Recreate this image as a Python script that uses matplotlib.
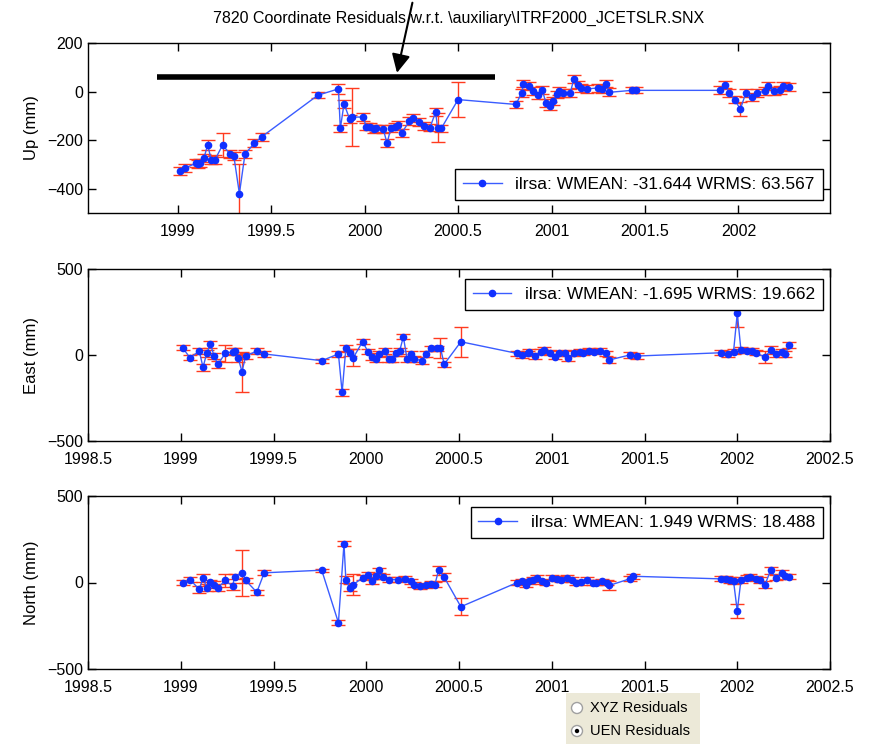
import numpy as np
import matplotlib
matplotlib.use('Agg')
import matplotlib.pyplot as plt
from matplotlib.patches import Rectangle, Circle

plt.rcParams['font.family'] = ['Liberation Sans', 'DejaVu Sans']

# ---- Up residuals (year, mm, error mm)
up_t = [1999.01, 1999.04, 1999.10, 1999.11, 1999.12, 1999.14, 1999.16, 1999.18, 1999.20, 1999.24,
        1999.28, 1999.30, 1999.33, 1999.36, 1999.41, 1999.45, 1999.75, 1999.86, 1999.87, 1999.89,
        1999.92, 1999.93, 1999.99, 2000.01, 2000.03, 2000.05, 2000.06, 2000.10, 2000.12, 2000.14,
        2000.16, 2000.18, 2000.20, 2000.24, 2000.26, 2000.29, 2000.32, 2000.35, 2000.38, 2000.39,
        2000.41, 2000.50, 2000.81, 2000.84, 2000.85, 2000.88, 2000.90, 2000.93, 2000.95, 2000.97,
        2000.99, 2001.01, 2001.03, 2001.04, 2001.06, 2001.10, 2001.12, 2001.14, 2001.16, 2001.19,
        2001.25, 2001.27, 2001.29, 2001.31, 2001.43, 2001.45, 2001.90, 2001.93, 2001.95, 2001.98,
        2002.01, 2002.04, 2002.07, 2002.10, 2002.14, 2002.16, 2002.19, 2002.22, 2002.24, 2002.27]
up_v = [-328, -315, -294, -298, -295, -275, -220, -282, -280, -220,
        -257, -264, -420, -257, -213, -186, -15, 11, -152, -50,
        -114, -105, -105, -144, -144, -155, -152, -155, -213, -152,
        -144, -139, -169, -121, -109, -125, -141, -148, -84, -148,
        -152, -33, -53, -5, 33, 22, 1, -16, 8, -46,
        -60, -40, -12, 1, -5, -5, 52, 29, 15, 11,
        15, 11, 33, -3, 5, 5, 5, 29, -5, -33,
        -73, -5, -22, -5, 1, 24, 1, 8, 22, 18]
up_e = [16, 16, 16, 16, 16, 16, 20, 16, 20, 49,
        16, 16, 122, 16, 16, 16, 12, 20, 16, 16,
        16, 120, 16, 16, 16, 16, 16, 16, 16, 16,
        16, 16, 16, 16, 16, 16, 16, 16, 16, 61,
        16, 73, 16, 16, 16, 16, 16, 16, 16, 16,
        16, 16, 16, 16, 16, 16, 16, 16, 16, 16,
        16, 16, 16, 16, 12, 12, 16, 16, 16, 16,
        28, 16, 16, 16, 16, 16, 16, 16, 16, 16]

# ---- East residuals
east_t = [1999.01, 1999.05, 1999.10, 1999.12, 1999.14, 1999.16, 1999.18, 1999.20, 1999.24, 1999.28,
          1999.29, 1999.31, 1999.33, 1999.35, 1999.41, 1999.45, 1999.76, 1999.85, 1999.87, 1999.89,
          1999.91, 1999.93, 1999.98, 2000.01, 2000.03, 2000.05, 2000.07, 2000.10, 2000.12, 2000.14,
          2000.16, 2000.18, 2000.20, 2000.22, 2000.24, 2000.26, 2000.30, 2000.32, 2000.35, 2000.38,
          2000.40, 2000.42, 2000.51, 2000.81, 2000.84, 2000.87, 2000.88, 2000.91, 2000.94, 2000.96,
          2000.99, 2001.02, 2001.04, 2001.07, 2001.09, 2001.12, 2001.15, 2001.17, 2001.20, 2001.23,
          2001.26, 2001.29, 2001.31, 2001.42, 2001.46, 2001.91, 2001.95, 2001.98, 2002.00, 2002.02,
          2002.05, 2002.08, 2002.10, 2002.15, 2002.18, 2002.21, 2002.24, 2002.26, 2002.28]
east_v = [42, -16, 23, -72, 10, 62, -6, -54, 10, 19,
          23, -19, -97, -6, 23, 6, -33, 6, -217, 39,
          13, -16, 77, 19, -10, -23, 6, 23, -23, -23,
          10, 23, 106, -23, 6, -23, -33, 6, 39, 39,
          42, -54, 77, 10, 0, 10, 19, -6, 19, 29,
          13, -10, 10, 13, -19, 10, 19, 13, 25, 19,
          25, 10, -29, 0, -6, 13, 6, 19, 242, 29,
          25, 25, 13, -13, 29, 6, 19, 6, 58]
east_e = [15, 15, 20, 20, 20, 20, 20, 20, 50, 20,
          20, 20, 116, 20, 20, 20, 12, 20, 20, 20,
          20, 48, 15, 15, 20, 20, 20, 15, 15, 15,
          15, 15, 15, 20, 20, 20, 20, 20, 15, 15,
          58, 15, 87, 15, 15, 15, 15, 15, 15, 15,
          15, 15, 15, 15, 15, 15, 15, 15, 15, 15,
          15, 15, 15, 15, 15, 15, 15, 15, 78, 15,
          15, 15, 15, 35, 25, 15, 15, 15, 20]

# ---- North residuals
north_t = [1999.01, 1999.05, 1999.10, 1999.12, 1999.14, 1999.16, 1999.18, 1999.20, 1999.24, 1999.28,
           1999.29, 1999.33, 1999.35, 1999.41, 1999.45, 1999.76, 1999.85, 1999.88, 1999.89, 1999.91,
           1999.93, 1999.98, 2000.01, 2000.03, 2000.05, 2000.07, 2000.09, 2000.12, 2000.17, 2000.21,
           2000.24, 2000.26, 2000.29, 2000.32, 2000.35, 2000.37, 2000.39, 2000.42, 2000.51, 2000.81,
           2000.84, 2000.86, 2000.88, 2000.90, 2000.92, 2000.95, 2000.97, 2001.00, 2001.03, 2001.05,
           2001.08, 2001.11, 2001.13, 2001.16, 2001.19, 2001.22, 2001.24, 2001.27, 2001.30, 2001.31,
           2001.42, 2001.44, 2001.91, 2001.94, 2001.96, 2001.98, 2002.00, 2002.02, 2002.05, 2002.07,
           2002.10, 2002.12, 2002.15, 2002.18, 2002.21, 2002.24, 2002.26, 2002.28]
north_v = [-2, 17, -40, 27, -31, 2, -12, -31, 12, -21,
           33, 56, 12, -56, 56, 71, -232, 224, 17, -31,
           -12, 27, 46, 8, 36, 71, 33, 17, 17, 21,
           8, -12, -21, -17, -6, -12, 71, 31, -140, -2,
           8, -12, 8, 17, 27, 8, -2, 27, 21, 17,
           27, 17, -2, 2, 17, -2, -2, 8, -2, -17,
           21, 36, 21, 21, 14, 8, -165, 14, 27, 33,
           21, 14, -12, 71, 27, 56, 36, 33]
north_e = [15, 15, 20, 25, 20, 15, 20, 20, 40, 20,
           15, 134, 15, 15, 15, 8, 15, 15, 20, 20,
           62, 15, 15, 15, 15, 15, 15, 15, 15, 15,
           15, 15, 15, 15, 15, 15, 25, 25, 48, 15,
           15, 15, 15, 15, 15, 15, 15, 15, 15, 15,
           15, 15, 15, 15, 15, 15, 15, 15, 15, 25,
           15, 15, 15, 15, 15, 15, 40, 15, 15, 15,
           15, 15, 20, 20, 15, 15, 15, 15]

legend_txt = ['ilrsa: WMEAN: -31.644 WRMS: 63.567',
              'ilrsa: WMEAN: -1.695 WRMS: 19.662',
              'ilrsa: WMEAN: 1.949 WRMS: 18.488']
ylabels = ['Up (mm)', 'East (mm)', 'North (mm)']
title = '7820 Coordinate Residuals w.r.t. \\auxiliary\\ITRF2000_JCETSLR.SNX'

W, H = 876, 744
fig = plt.figure(figsize=(W / 100, H / 100), dpi=100)


def panel(rect, t, v, e, label, leg, legloc, anchor):
    ax = fig.add_axes(rect)
    ax.errorbar(t, v, yerr=e, fmt='none', ecolor='#ff3b1f', elinewidth=1, capsize=5, capthick=1, zorder=2)
    ax.plot(t, v, color='#3a5cff', lw=1, marker='.', ms=9, mfc='#1030ff', mec='#1030ff',
            label=leg, zorder=3)
    ax.set_ylabel(label, fontsize=12, labelpad=6)
    ax.tick_params(direction='in', top=True, right=True, length=6, labelsize=11.5, width=1)
    ax.tick_params(axis='x', pad=8)
    for s in ax.spines.values():
        s.set_linewidth(1)
    lg = ax.legend(loc=legloc, bbox_to_anchor=anchor, borderaxespad=0, fancybox=False,
                   framealpha=1, edgecolor='black', fontsize=12.5, handlelength=2.2,
                   borderpad=0.45)
    lg.get_frame().set_linewidth(1)
    return ax


def px_rect(x0, y0, x1, y1):
    return [x0 / W, 1 - y1 / H, (x1 - x0) / W, (y1 - y0) / H]


ax1 = panel(px_rect(88, 43, 830, 213), up_t, up_v, up_e, ylabels[0], legend_txt[0],
            'lower right', (0.99, 0.075))
ax1.set_xlim(1998.52, 2002.49)
ax1.set_ylim(-500, 200)
ax1.set_yticks([-400, -200, 0, 200])
ax1.set_xticks([1999, 1999.5, 2000, 2000.5, 2001, 2001.5, 2002])
ax1.set_xticklabels(['1999', '1999.5', '2000', '2000.5', '2001', '2001.5', '2002'])

ax2 = panel(px_rect(88, 269, 830, 441), east_t, east_v, east_e, ylabels[1], legend_txt[1],
            'upper right', (0.99, 0.94))
ax3 = panel(px_rect(88, 496, 830, 669), north_t, north_v, north_e, ylabels[2], legend_txt[2],
            'upper right', (0.99, 0.935))
for ax in (ax2, ax3):
    ax.set_xlim(1998.5, 2002.5)
    ax.set_ylim(-500, 500)
    ax.set_yticks([-500, 0, 500])
    ax.set_xticks([1998.5, 1999, 1999.5, 2000, 2000.5, 2001, 2001.5, 2002, 2002.5])
    ax.set_xticklabels(['1998.5', '1999', '1999.5', '2000', '2000.5', '2001', '2001.5', '2002', '2002.5'])

fig.text(459 / W, 1 - 18 / H, title, ha='center', va='center', fontsize=11.5,
         family=['Liberation Sans Narrow', 'Liberation Sans', 'DejaVu Sans'])

# annotation: thick bar and arrow in the Up panel
bar_x = [1998.89, 2000.70]
bar_y = 61
ax1.plot(bar_x, [bar_y, bar_y], color='black', lw=4, solid_capstyle='butt', zorder=4)
ax1.annotate('', xy=(2000.17, 66), xycoords='data', xytext=(413 / W, 1.0),
             textcoords='figure fraction',
             arrowprops=dict(arrowstyle='-|>', color='black', lw=1.5, mutation_scale=28),
             annotation_clip=False)

# radio button panel
rb = fig.add_axes(px_rect(566, 693, 700, 744))
rb.set_xlim(0, 134)
rb.set_ylim(51, 0)
rb.axis('off')
rb.add_patch(Rectangle((0, 0), 134, 51, facecolor='#ece9d8', edgecolor='none'))
for i, txt in enumerate(['XYZ Residuals', 'UEN Residuals']):
    cy = 15 + i * 23
    rb.add_patch(Circle((11, cy), 5.5, facecolor='white', edgecolor='#a0a0a0', lw=1))
    if i == 1:
        rb.add_patch(Circle((11, cy), 2.2, facecolor='black', edgecolor='none'))
    rb.text(24, cy, txt, va='center', ha='left', fontsize=10.5,
            family=['Liberation Sans Narrow', 'Liberation Sans', 'DejaVu Sans'])

fig.savefig('out.png', dpi=100)
